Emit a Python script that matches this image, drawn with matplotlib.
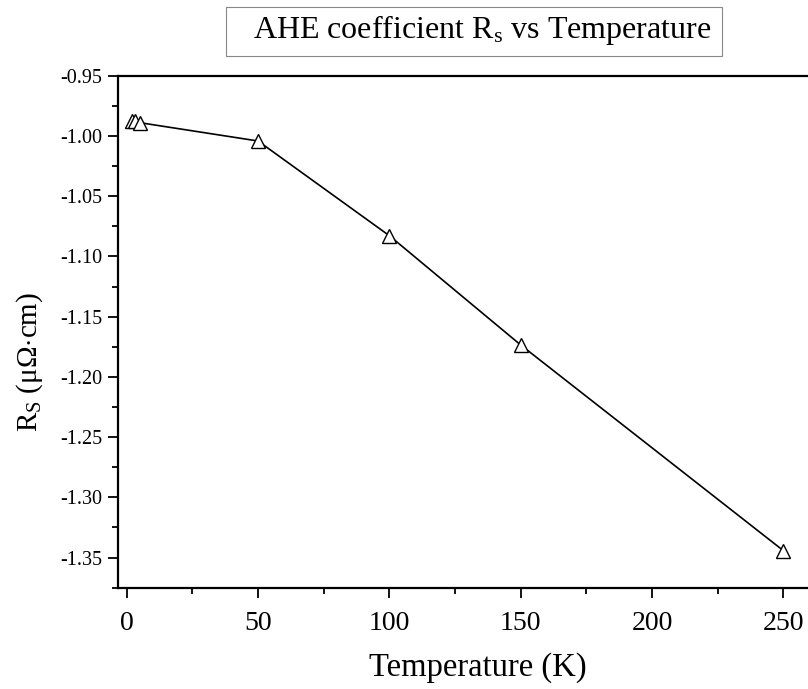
import numpy as np
import matplotlib.pyplot as plt
from matplotlib.patches import Rectangle

# data
temperatur = [2, 3, 5, 50, 100, 150, 250]
rs_verdi = [-0.9876, -0.9880, -0.9890, -1.0042, -1.0828, -1.1735, -1.3442]

plt.rcParams['font.family'] = ['Liberation Serif', 'DejaVu Serif']
plt.rcParams['mathtext.fontset'] = 'custom'
plt.rcParams['mathtext.rm'] = 'Liberation Serif'
plt.rcParams['mathtext.it'] = 'Liberation Serif:italic'

W, H = 808, 689
fig = plt.figure(figsize=(W / 100, H / 100), dpi=100)
ax = fig.add_axes([118.3 / W, 1 - 587.7 / H, 1 - 118.3 / W, (587.7 - 75.7) / H])

ax.plot(temperatur, rs_verdi, color='black', lw=1.2, marker='^', ms=10,
        mfc='white', mec='black', mew=1.0)

ax.set_xlim(-3.2, 259.4)
ax.set_ylim(-1.3749, -0.95)
ax.set_xticks([0, 50, 100, 150, 200, 250])
ax.set_xticks(np.arange(25, 260, 50), minor=True)
ax.set_yticks(np.arange(-1.35, -0.949, 0.05))
ax.set_yticks(np.arange(-1.375, -0.95, 0.05), minor=True)
ax.set_yticklabels(['%.2f' % v for v in np.arange(-1.35, -0.949, 0.05)])

for s in ['left', 'bottom', 'top']:
    ax.spines[s].set_linewidth(1.6)
ax.spines['right'].set_visible(False)
ax.tick_params(which='major', direction='out', length=7.5, width=1.3)
ax.tick_params(which='minor', direction='out', length=4, width=1.3)
ax.tick_params(axis='x', labelsize=20, pad=9)
ax.tick_params(axis='y', labelsize=14.5, pad=4)

fig.text(478 / W, 1 - 668 / H, 'Temperature (K)', fontsize=23.5, ha='center', va='center')
fig.text(30 / W, 1 - 362 / H, r'R$_\mathrm{S}$ ($\mathrm{\mu\Omega}$$\cdot$cm)', fontsize=21,
         rotation=90, ha='center', va='center')

# tittelboks
fig.patches.append(Rectangle((226 / W, 1 - 56 / H), (722 - 226) / W, 49 / H,
                             transform=fig.transFigure, fill=False, ec='#888888', lw=0.8))
fig.text(253 / W, 1 - 38 / H, r'AHE coefficient R$_\mathrm{s}$ vs Temperature', fontsize=23,
         ha='left', va='baseline')

fig.savefig('out.png', dpi=100)
